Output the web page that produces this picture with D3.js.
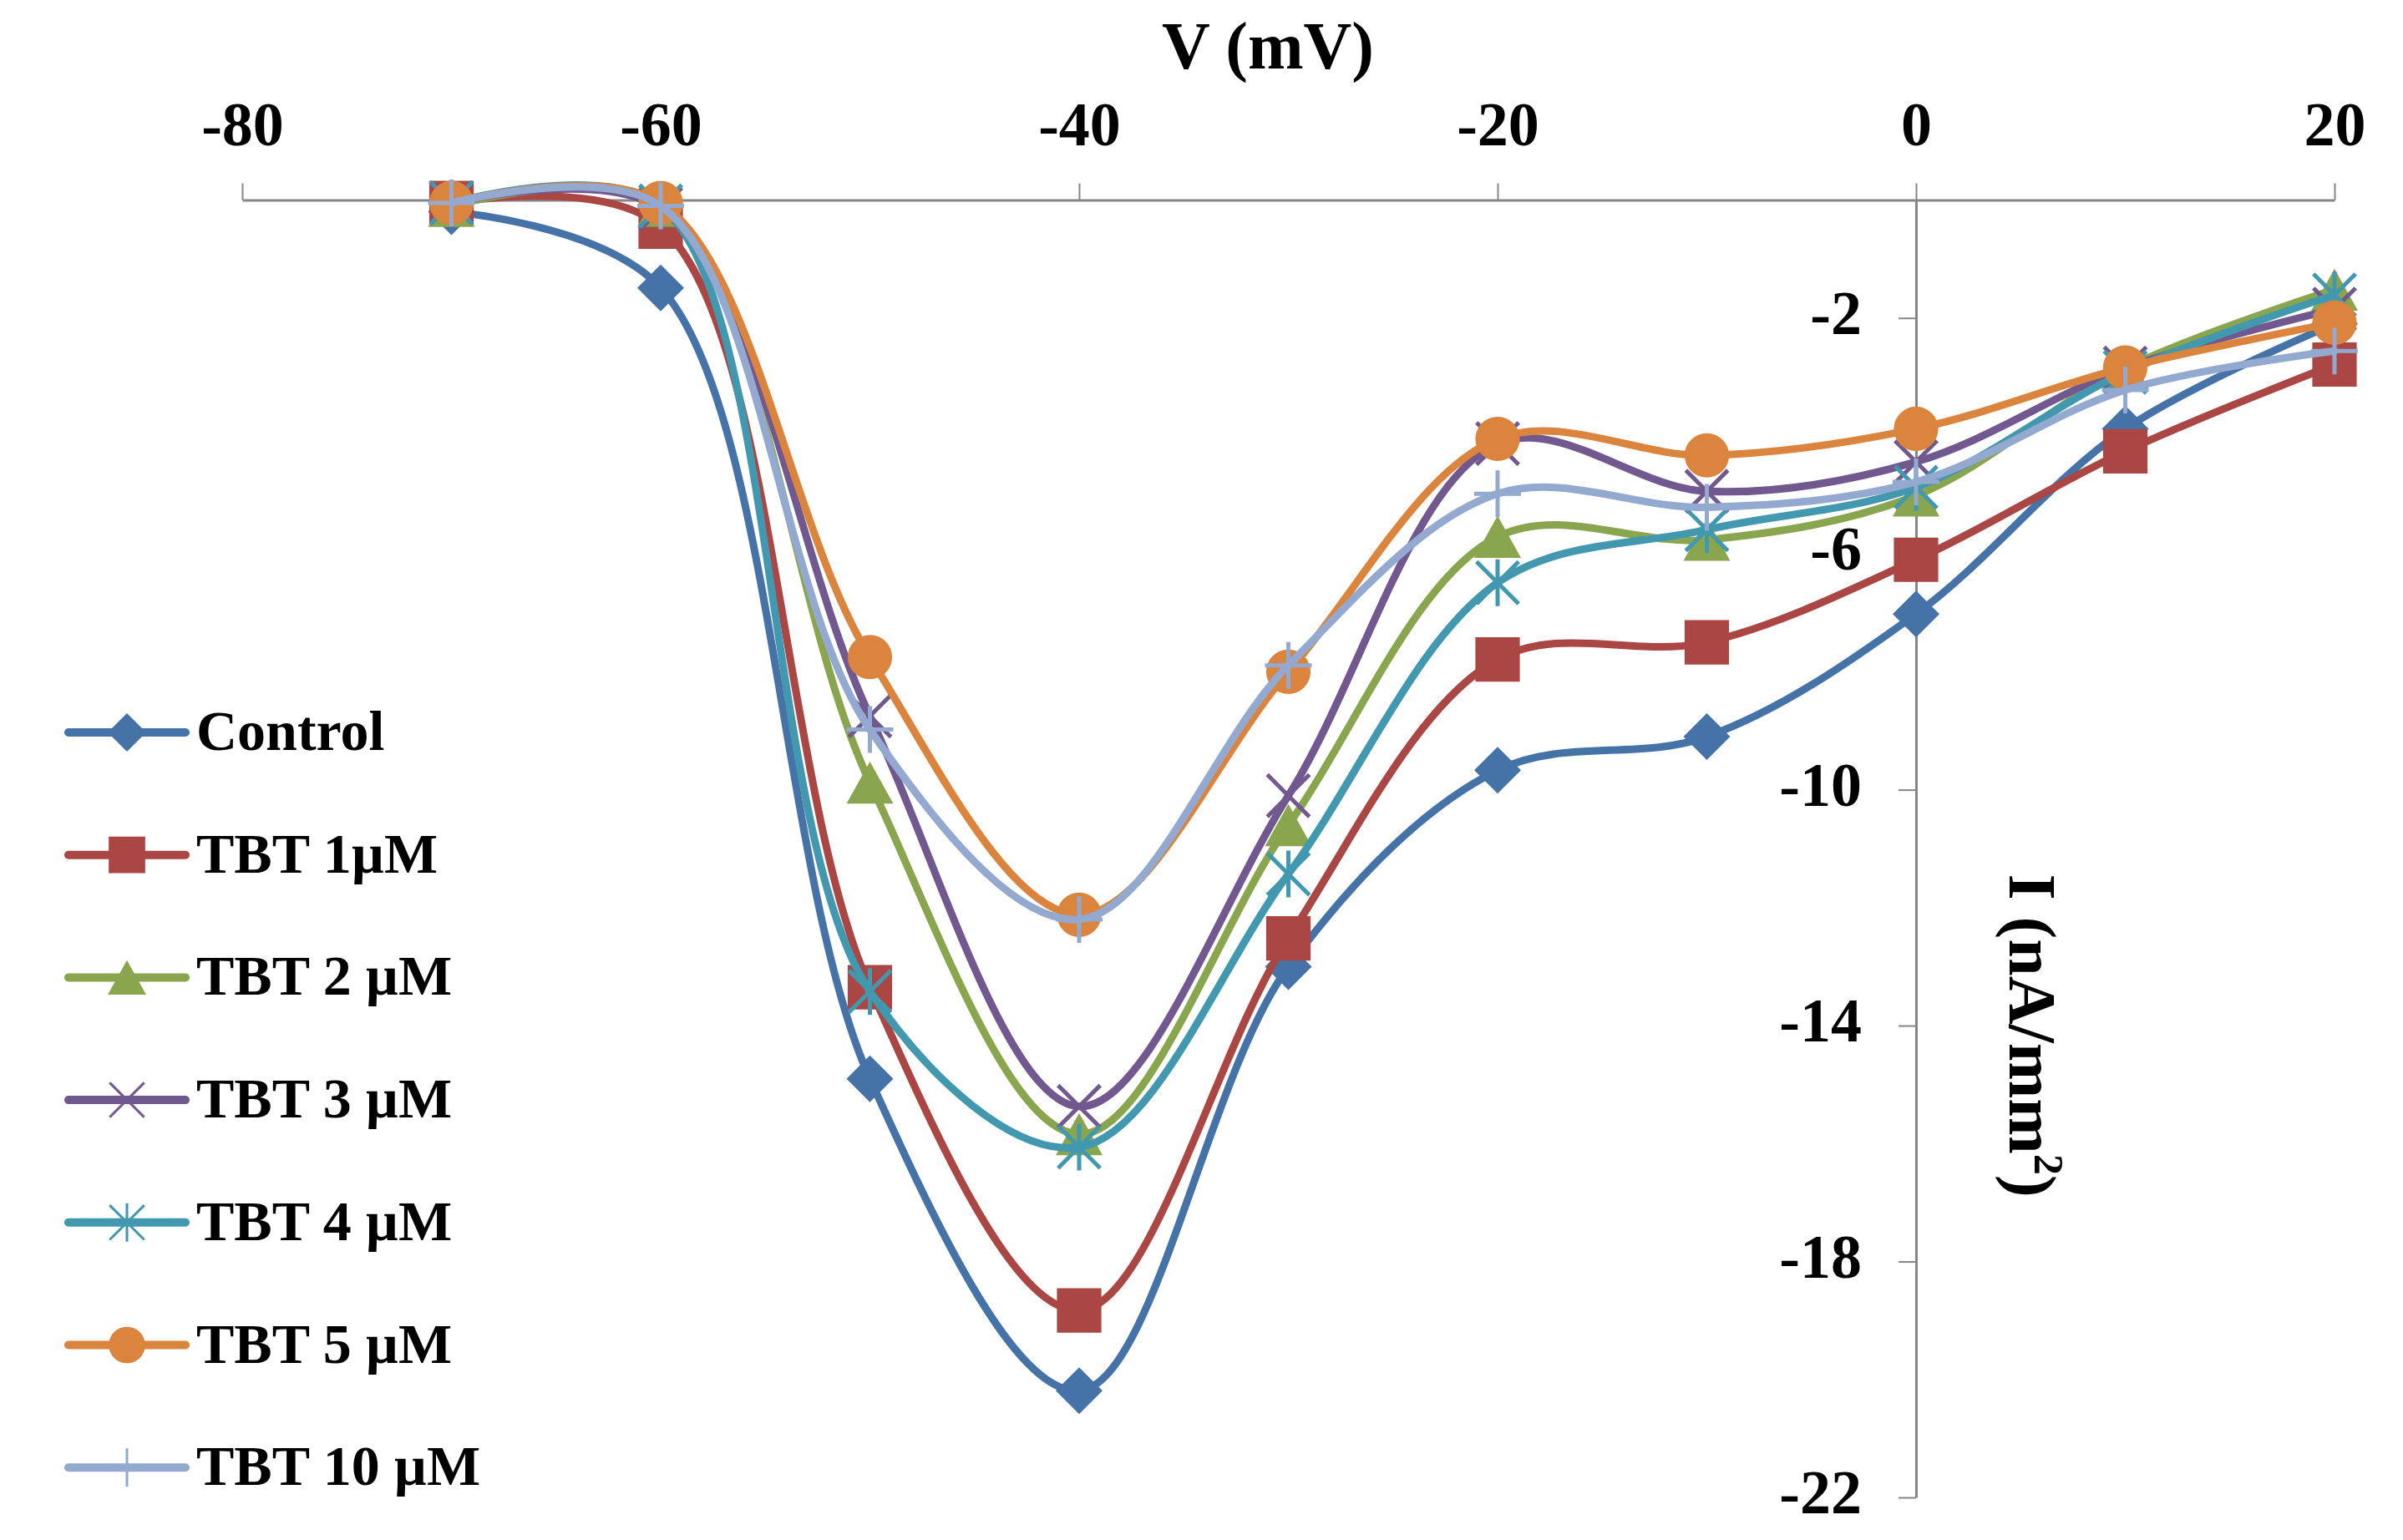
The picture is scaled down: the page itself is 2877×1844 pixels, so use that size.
<!DOCTYPE html>
<html>

<head>
  <meta charset="utf-8">
  <title>I-V curves</title>
  <script src="https://d3js.org/d3.v7.min.js"></script>
  <style>
    body { margin: 0; background: #fff; }
    text { font-family: "Liberation Serif", "Times New Roman", serif; font-weight: bold; fill: #000; }
  </style>
</head>

<body>
  <svg width="2877" height="1844"></svg>
  <script>
    // voltage steps (mV)
    const voltages = [-70, -60, -50, -40, -30, -20, -10, 0, 10, 20];

    // current density (nA/mm2)
    const control = [-0.2, -1.49, -14.9, -20.19, -13.0, -9.67, -9.1, -7.02, -3.88, -2.1];
    const tbt1 = [-0.05, -0.45, -13.35, -18.83, -12.52, -7.79, -7.5, -6.1, -4.26, -2.79];
    const tbt2 = [-0.1, -0.1, -9.88, -15.84, -10.6, -5.71, -5.76, -5.01, -2.85, -1.52];
    const tbt3 = [-0.05, -0.15, -8.75, -15.37, -10.1, -4.13, -4.94, -4.44, -2.85, -1.85];
    const tbt4 = [-0.05, -0.1, -13.42, -16.06, -11.43, -6.49, -5.59, -4.87, -2.92, -1.61];
    const tbt5 = [-0.05, -0.05, -7.75, -12.12, -8.0, -4.05, -4.33, -3.88, -2.84, -2.08];
    const tbt10 = [-0.05, -0.1, -8.98, -12.2, -7.89, -4.98, -5.21, -4.78, -3.22, -2.56];

    const seriesNames = ["Control", "TBT 1µM", "TBT 2 µM", "TBT 3 µM", "TBT 4 µM", "TBT 5 µM", "TBT 10 µM"];
    const seriesValues = [control, tbt1, tbt2, tbt3, tbt4, tbt5, tbt10];
    const seriesColors = ["#4572A7", "#AA4643", "#89A54E", "#71588F", "#4198AF", "#DB843D", "#93A9CF"];
    const seriesMarkers = ["diamond", "square", "triangle", "x", "asterisk", "circle", "plus"];

    const xTicks = [-80, -60, -40, -20, 0, 20];
    const yTicks = [-22, -18, -14, -10, -6, -2];

    const svg = d3.select("svg");

    const x = d3.scaleLinear().domain([-80, 20]).range([290, 2795]);
    const y = d3.scaleLinear().domain([-22, 0]).range([1793, 239.5]);

    // plain hyphen for negatives, like the original
    const fmt = d => String(d);

    // axes
    const xAxis = svg.append("g")
      .attr("transform", `translate(0,${y(0)})`)
      .call(d3.axisTop(x).tickValues(xTicks).tickSize(20).tickSizeOuter(0).tickPadding(46).tickFormat(fmt));

    const yAxis = svg.append("g")
      .attr("transform", `translate(${x(0)},0)`)
      .call(d3.axisLeft(y).tickValues(yTicks).tickSize(21).tickSizeOuter(0).tickPadding(44).tickFormat(fmt));

    [xAxis, yAxis].forEach(ax => {
      ax.select(".domain").attr("stroke", "#868686").attr("stroke-width", 3);
      ax.selectAll(".tick line").attr("stroke", "#868686").attr("stroke-width", 2);
      ax.selectAll(".tick text")
        .attr("font-size", 74)
        .attr("font-family", "Liberation Serif, Times New Roman, serif")
        .attr("font-weight", "bold")
        .attr("fill", "#000");
    });
    yAxis.selectAll(".tick text").attr("dy", "0.25em");

    // axis titles
    svg.append("text")
      .attr("x", 1518)
      .attr("y", 82)
      .attr("text-anchor", "middle")
      .attr("font-size", 80)
      .text("V (mV)");

    const yTitle = svg.append("text")
      .attr("transform", "translate(2406,1240) rotate(90)")
      .attr("text-anchor", "middle")
      .attr("font-size", 80);
    yTitle.append("tspan").text("I (nA/mm");
    yTitle.append("tspan").attr("font-size", 50).attr("dy", -30).text("2");
    yTitle.append("tspan").attr("dy", 30).text(")");

    // marker shapes
    function markerPath(type, r) {
      const p = d3.path();
      if (type === "diamond") {
        p.moveTo(0, -r); p.lineTo(r, 0); p.lineTo(0, r); p.lineTo(-r, 0); p.closePath();
      } else if (type === "square") {
        p.rect(-r * 0.95, -r * 0.95, r * 1.9, r * 1.9);
      } else if (type === "triangle") {
        p.moveTo(0, -r * 0.9); p.lineTo(r, r * 0.9); p.lineTo(-r, r * 0.9); p.closePath();
      } else if (type === "circle") {
        p.arc(0, 0, r * 0.95, 0, 2 * Math.PI);
      } else {
        const a = r * 0.9;
        if (type === "x" || type === "asterisk") {
          p.moveTo(-a, -a); p.lineTo(a, a);
          p.moveTo(-a, a); p.lineTo(a, -a);
        }
        if (type === "asterisk" || type === "plus") {
          p.moveTo(0, -r); p.lineTo(0, r);
        }
        if (type === "plus") {
          p.moveTo(-r, 0); p.lineTo(r, 0);
        }
      }
      return p.toString();
    }

    function drawMarker(g, type, color, r, strokeW) {
      const filled = ["diamond", "square", "triangle", "circle"].includes(type);
      g.append("path")
        .attr("d", markerPath(type, r))
        .attr("fill", filled ? color : "none")
        .attr("stroke", filled ? "none" : color)
        .attr("stroke-width", strokeW);
    }

    // smoothed lines (Excel style, little overshoot on short segments)
    const line = d3.line()
      .x((d, i) => x(voltages[i]))
      .y(d => y(d))
      .curve(d3.curveCatmullRom.alpha(0.5));

    seriesValues.forEach((vals, s) => {
      const g = svg.append("g");
      g.append("path")
        .attr("d", line(vals))
        .attr("fill", "none")
        .attr("stroke", seriesColors[s])
        .attr("stroke-width", 9)
        .attr("stroke-linejoin", "round")
        .attr("stroke-linecap", "round");

      vals.forEach((v, i) => {
        const mg = g.append("g").attr("transform", `translate(${x(voltages[i])},${y(v)})`);
        drawMarker(mg, seriesMarkers[s], seriesColors[s], 28, 5);
      });
    });

    // legend
    const legendTop = 877;
    const legendStep = 146.7;
    const legend = svg.append("g");
    seriesNames.forEach((name, s) => {
      const row = legend.append("g").attr("transform", `translate(0,${legendTop + s * legendStep})`);
      row.append("line")
        .attr("x1", 82).attr("x2", 222)
        .attr("stroke", seriesColors[s])
        .attr("stroke-width", 10)
        .attr("stroke-linecap", "round");
      const mg = row.append("g").attr("transform", "translate(152,0)");
      drawMarker(mg, seriesMarkers[s], seriesColors[s], 23, 3);
      row.append("text")
        .attr("x", 235)
        .attr("y", 21)
        .attr("font-size", 68)
        .text(name);
    });
  </script>
</body>

</html>
